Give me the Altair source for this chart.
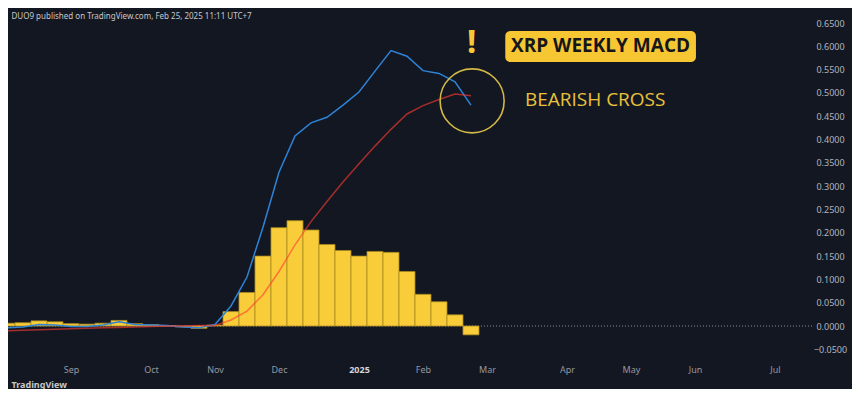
import altair as alt
import pandas as pd

# ---- data (weekly bars, Monday dates) ----
weeks = [
    "2024-07-29", "2024-08-05", "2024-08-12", "2024-08-19", "2024-08-26",
    "2024-09-02", "2024-09-09", "2024-09-16", "2024-09-23", "2024-09-30",
    "2024-10-07", "2024-10-14", "2024-10-21", "2024-10-28", "2024-11-04",
    "2024-11-11", "2024-11-18", "2024-11-25", "2024-12-02", "2024-12-09",
    "2024-12-16", "2024-12-23", "2024-12-30", "2025-01-06", "2025-01-13",
    "2025-01-20", "2025-01-27", "2025-02-03", "2025-02-10", "2025-02-17",
    "2025-02-24",
]
histogram = [
    0.006, 0.006, 0.007, 0.011, 0.009,
    0.005, 0.004, 0.006, 0.012, 0.005,
    0.003, 0.001, -0.002, -0.005, 0.002,
    0.031, 0.072, 0.150, 0.211, 0.226,
    0.206, 0.175, 0.162, 0.150, 0.160,
    0.158, 0.117, 0.068, 0.052, 0.024,
    -0.019,
]
macd = [
    -0.005, -0.004, -0.002, 0.003, 0.002,
    -0.001, -0.001, 0.002, 0.009, 0.003,
    0.002, 0.001, -0.002, -0.004, 0.003,
    0.043, 0.105, 0.212, 0.330, 0.408,
    0.436, 0.448, 0.474, 0.502, 0.547,
    0.591, 0.579, 0.548, 0.542, 0.524,
    0.474,
]
signal = [
    -0.011, -0.010, -0.009, -0.008, -0.007,
    -0.006, -0.005, -0.004, -0.003, -0.002,
    -0.001, 0.000, 0.000, 0.001, 0.001,
    0.013, 0.032, 0.067, 0.117, 0.174,
    0.224, 0.267, 0.309, 0.348, 0.386,
    0.422, 0.455, 0.473, 0.486, 0.498,
    0.494,
]

month_ticks = [
    (2024, 8, 5), (2024, 9, 2), (2024, 10, 7), (2024, 11, 4), (2024, 12, 2),
    (2025, 1, 6), (2025, 2, 3), (2025, 3, 3), (2025, 4, 7), (2025, 5, 5),
    (2025, 6, 2), (2025, 7, 7),
]
y_ticks = [-0.05, 0.0, 0.05, 0.1, 0.15, 0.2, 0.25, 0.3, 0.35, 0.4, 0.45,
           0.5, 0.55, 0.6, 0.65]

# ---- tables ----
fmt = "%Y-%m-%dT%H:%M:%SZ"
wk = pd.to_datetime(weeks)
half = pd.Timedelta(hours=84)
df = pd.DataFrame({
    "date": wk.strftime(fmt),
    "start": (wk - half).strftime(fmt),
    "end": (wk + half).strftime(fmt),
    "hist": histogram,
    "macd": macd,
    "signal": signal,
})

# annotation anchors (in data space)
ann_circle = pd.DataFrame({"date": ["2025-02-24T12:00:00Z"], "v": [0.483]})
ann_bang = pd.DataFrame({"date": ["2025-02-24T08:00:00Z"], "v": [0.607]})
ann_box = pd.DataFrame({"d1": ["2025-03-11T00:00:00Z"], "d2": ["2025-06-02T10:00:00Z"],
                        "v1": [0.633], "v2": [0.5665]})
ann_title = pd.DataFrame({"date": ["2025-04-21T16:00:00Z"], "v": [0.6005]})
ann_cross = pd.DataFrame({"date": ["2025-03-19T14:00:00Z"], "v": [0.484]})

BG = "#131722"
YELLOW = "#F9CD3A"
FONT = "Noto Sans"

x_scale = alt.Scale(
    type="utc",
    domain=[alt.DateTime(year=2024, month=8, date=5, hours=10, minutes=34, utc=True),
            alt.DateTime(year=2025, month=7, date=23, hours=4, minutes=33, utc=True)],
    nice=False,
)
year_test = "utcmonth(datum.value) == 0"
x_axis = alt.Axis(
    values=[alt.DateTime(year=y, month=m, date=d, utc=True) for (y, m, d) in month_ticks],
    labelExpr=f"{year_test} ? utcFormat(datum.value, '%Y') : utcFormat(datum.value, '%b')",
    labelFontWeight={"condition": {"test": year_test, "value": "bold"}, "value": "normal"},
    labelColor={"condition": {"test": year_test, "value": "#d1d4dc"}, "value": "#9598a1"},
    labelFont=FONT, labelFontSize=9, labelPadding=5, labelFlush=False,
    labelOverlap=False, ticks=False, domain=False, grid=False,
    title="TradingView", titleAnchor="start", titleX=3, titleY=27,
    titleBaseline="alphabetic", titleFont=FONT, titleFontSize=9,
    titleFontWeight="bold", titleColor="#c8c8c8",
)
y_scale = alt.Scale(domain=[-0.07296, 0.6545], nice=False, zero=False)
y_axis = alt.Axis(
    orient="right", values=y_ticks, format=".4f", labelAlign="center",
    labelPadding=18, labelFont=FONT, labelFontSize=9, labelColor="#b2b5be",
    ticks=False, domain=False, grid=False, title=None,
)


def X(field):
    return alt.X(field, type="temporal", scale=x_scale, axis=x_axis, title="TradingView")


def Y(field):
    return alt.Y(field, type="quantitative", scale=y_scale, axis=y_axis, title=None)


base = alt.Chart(df)

zero_rule = base.mark_rule(color="#50535e", strokeDash=[1, 2], strokeWidth=1).encode(
    y=alt.Y(datum=0, type="quantitative", scale=y_scale, axis=y_axis, title=None)
)

bars = base.mark_bar(color=YELLOW, stroke="#a8891f", strokeWidth=0.8, clip=True).encode(
    x=X("start"), x2="end", y=Y("hist"), y2=alt.Y2(datum=0)
)

macd_line = base.mark_line(color="#2e83d6", strokeWidth=1.5, clip=True).encode(
    x=X("date"), y=Y("macd")
)
signal_line = base.mark_line(color="#ff3b30", opacity=0.62, strokeWidth=1.5, clip=True).encode(
    x=X("date"), y=Y("signal")
)

circle = alt.Chart(ann_circle).mark_point(
    shape="circle", filled=False, size=4096, strokeWidth=1.6, color="#d2b845", opacity=1
).encode(x=X("date"), y=Y("v"))

bang = alt.Chart(ann_bang).mark_text(
    text="!", font=FONT, fontSize=33, fontWeight="bold", color="#F5C93A",
    align="center", baseline="middle"
).encode(x=X("date"), y=Y("v"))

box = alt.Chart(ann_box).mark_rect(color="#F7C633", cornerRadius=5).encode(
    x=X("d1"), x2="d2", y=Y("v1"), y2="v2"
)
box_text = alt.Chart(ann_title).mark_text(
    text="XRP WEEKLY MACD", font="Open Sans", fontSize=19, fontWeight="bold",
    color="#15151a", align="center", baseline="middle"
).encode(x=X("date"), y=Y("v"))

cross_text = alt.Chart(ann_cross).mark_text(
    text="BEARISH CROSS", font="Open Sans", fontSize=19, color="#EAC23B",
    align="left", baseline="middle"
).encode(x=X("date"), y=Y("v"))

chart = alt.layer(
    zero_rule, bars, macd_line, signal_line, circle, bang, box, box_text, cross_text
).properties(
    width=804,
    height=339,
    autosize=alt.AutoSizeParams(type="none"),
    padding={"left": 0, "top": 13, "right": 40, "bottom": 29},
    background=BG,
    title=alt.Title(
        "DUO9 published on TradingView.com, Feb 25, 2025 11:11 UTC+7",
        anchor="start", fontSize=8, font=FONT, fontWeight="normal",
        color="#c8c8c8", offset=2, dx=4, dy=4,
    ),
).configure_view(strokeWidth=0, fill=BG)

chart.save("out.html", embed_options={"renderer": "svg", "actions": False})
